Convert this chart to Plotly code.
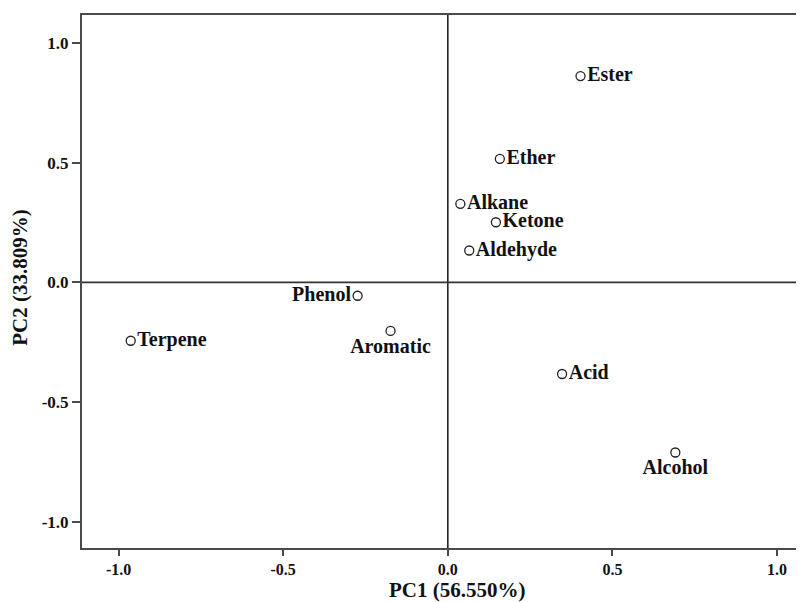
import plotly.graph_objects as go

# Data
names = ["Ester", "Ether", "Alkane", "Ketone", "Aldehyde",
         "Phenol", "Aromatic", "Terpene", "Acid", "Alcohol"]
pc1 = [0.403, 0.158, 0.038, 0.146, 0.065, -0.274, -0.174, -0.963, 0.347, 0.691]
pc2 = [0.862, 0.516, 0.328, 0.251, 0.133, -0.056, -0.203, -0.244, -0.383, -0.711]
label_pos = ["middle right", "middle right", "middle right", "middle right", "middle right",
             "middle left", "bottom center", "middle right", "middle right", "bottom center"]

tick_vals = [-1.0, -0.5, 0.0, 0.5, 1.0]
tick_text = ["-1.0", "-0.5", "0.0", "0.5", "1.0"]

x_title = "PC1 (56.550%)"
y_title = "PC2 (33.809%)"

serif = "Liberation Serif, Times New Roman, serif"
line_col = "#4a4a4a"

fig = go.Figure()
fig.add_trace(go.Scatter(
    x=pc1, y=pc2, mode="markers+text", text=names, textposition=label_pos,
    marker=dict(symbol="circle-open", size=9, color="#222222", line=dict(width=1.3)),
    textfont=dict(family=serif, size=20, color="#111111", weight="bold"),
    showlegend=False, cliponaxis=False,
))

fig.add_shape(type="line", xref="x", yref="paper", x0=0, x1=0, y0=0, y1=1,
              line=dict(color="#222222", width=1.6))
fig.add_shape(type="line", xref="paper", yref="y", x0=0, x1=1, y0=0, y1=0,
              line=dict(color="#333333", width=1.8))

fig.update_layout(
    width=804, height=594,
    margin=dict(l=74, r=0, t=7, b=54),
    paper_bgcolor="white", plot_bgcolor="white",
    xaxis=dict(range=[-1.111, 1.106], tickvals=tick_vals, ticktext=tick_text,
               showgrid=False, zeroline=False, showline=True, mirror=True,
               linecolor=line_col, linewidth=2, ticks="outside", ticklen=6,
               tickwidth=1.5, tickcolor=line_col,
               tickfont=dict(family=serif, size=16, color="#111111", weight="bold")),
    yaxis=dict(range=[-1.11, 1.117], tickvals=tick_vals, ticktext=tick_text,
               showgrid=False, zeroline=False, showline=True, mirror=False,
               linecolor=line_col, linewidth=2, ticks="outside", ticklen=8,
               tickwidth=1.5, tickcolor=line_col,
               tickfont=dict(family=serif, size=17, color="#111111", weight="bold")),
    annotations=[
        dict(text=x_title, xref="paper", yref="paper", x=0.514, y=-0.079,
             xanchor="center", yanchor="middle", showarrow=False,
             font=dict(family=serif, size=21, color="#111111", weight="bold")),
        dict(text=y_title, xref="paper", yref="paper", x=-0.085, y=0.507,
             xanchor="center", yanchor="middle", showarrow=False, textangle=-90,
             font=dict(family=serif, size=21, color="#111111", weight="bold")),
    ],
)

fig.write_html("out.html")
